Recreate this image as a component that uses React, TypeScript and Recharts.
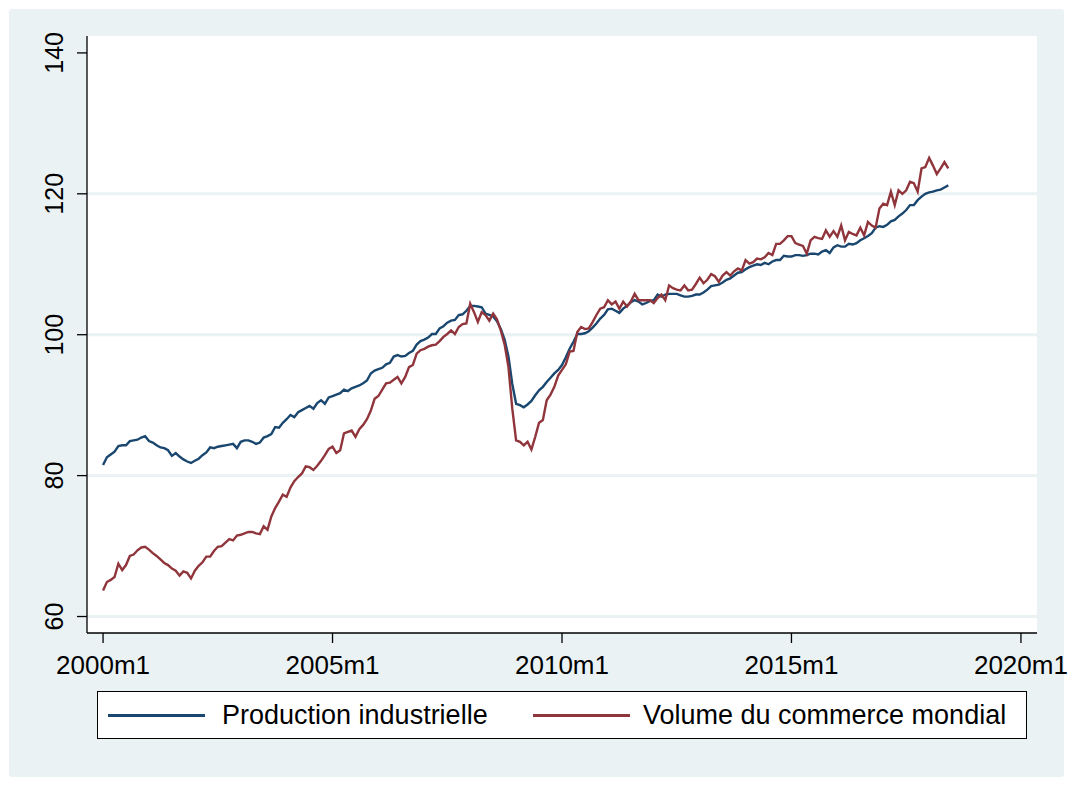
import React from "react"
import { LineChart, Line, XAxis, YAxis, CartesianGrid } from "recharts"

// monthly index, 2000m1 = 0
const ip = [
  81.5, 82.6, 83.0, 83.4, 84.2, 84.3, 84.3, 84.9, 85.0, 85.1, 85.4, 85.6,
  84.9, 84.7, 84.3, 84.0, 83.9, 83.6, 82.8, 83.2, 82.7, 82.3, 82.0, 81.8,
  82.1, 82.4, 82.9, 83.3, 84.0, 83.9, 84.1, 84.2, 84.3, 84.4, 84.5, 83.9,
  84.8, 85.0, 85.0, 84.8, 84.5, 84.7, 85.4, 85.6, 85.9, 86.9, 86.8, 87.5,
  88.0, 88.6, 88.3, 89.0, 89.3, 89.6, 89.9, 89.5, 90.3, 90.7, 90.2, 91.1,
  91.3, 91.5, 91.7, 92.2, 92.0, 92.4, 92.6, 92.8, 93.1, 93.5, 94.5, 94.9,
  95.1, 95.3, 95.8, 96.0, 96.9, 97.1, 96.9, 97.0, 97.4, 97.7, 98.6, 99.1,
  99.3, 99.6, 100.1, 100.1, 100.9, 101.2, 101.7, 102.0, 102.1, 102.8, 102.9, 103.4,
  104.1, 104.1, 104.0, 103.9, 103.0, 102.8, 102.6, 101.9, 100.8, 99.3, 96.9, 93.0,
  90.2, 90.0, 89.7, 90.1, 90.6, 91.4, 92.1, 92.6, 93.3, 93.9, 94.5, 95.0,
  95.7, 96.8, 98.0, 99.0, 100.1, 100.1, 100.2, 100.5, 101.0, 101.6, 102.3, 102.8,
  103.6, 103.7, 103.4, 103.1, 103.7, 104.1, 104.6, 104.9, 104.7, 104.3, 104.5, 104.8,
  104.9, 105.7, 105.4, 105.7, 105.8, 105.8, 105.8, 105.6, 105.4, 105.4, 105.5, 105.7,
  105.7, 106.0, 106.4, 106.9, 107.0, 107.1, 107.4, 107.8, 108.0, 108.4, 108.8, 108.9,
  109.3, 109.6, 109.8, 110.0, 109.9, 110.2, 110.0, 110.4, 110.6, 110.6, 111.2, 111.1,
  111.1, 111.3, 111.3, 111.2, 111.3, 111.5, 111.5, 111.4, 111.8, 112.0, 111.6, 112.4,
  112.7, 112.5, 112.5, 112.9, 112.8, 113.0, 113.4, 113.7, 114.0, 114.4, 115.2, 115.4,
  115.3, 115.6, 116.1, 116.3, 116.8, 117.2, 117.7, 118.4, 118.4, 119.1, 119.6, 120.0,
  120.2, 120.3, 120.5, 120.6, 120.9, 121.2,
]

const trade = [
  63.7, 64.9, 65.2, 65.6, 67.5, 66.6, 67.3, 68.6, 68.8, 69.4, 69.8, 69.9,
  69.5, 69.0, 68.6, 68.1, 67.6, 67.3, 66.8, 66.5, 65.8, 66.4, 66.2, 65.4,
  66.5, 67.2, 67.7, 68.5, 68.5, 69.3, 69.9, 70.0, 70.5, 71.0, 70.8, 71.5,
  71.6, 71.8, 72.0, 72.0, 71.8, 71.7, 72.8, 72.3, 74.2, 75.4, 76.3, 77.3,
  77.0, 78.3, 79.2, 79.8, 80.3, 81.3, 81.2, 80.8, 81.4, 82.1, 82.9, 83.8,
  84.1, 83.2, 83.6, 86.0, 86.2, 86.4, 85.5, 86.6, 87.2, 88.0, 89.2, 90.9,
  91.3, 92.2, 93.1, 93.2, 93.6, 94.0, 93.1, 94.0, 95.4, 95.7, 97.3, 97.8,
  98.0, 98.3, 98.5, 98.6, 99.1, 99.7, 100.1, 100.6, 100.1, 101.1, 101.5, 101.6,
  104.4, 103.2, 101.8, 103.2, 102.8, 102.0, 103.0, 102.2, 100.6, 98.6, 95.4, 89.5,
  85.0, 84.8, 84.3, 84.8, 83.7, 85.5, 87.5, 87.9, 90.7, 91.5, 92.6, 94.2,
  95.0, 95.8, 97.6, 97.7, 100.4, 101.1, 100.8, 100.9, 101.8, 102.8, 103.7, 103.9,
  104.9, 104.3, 104.7, 103.7, 104.7, 104.0, 104.7, 105.8, 104.9, 104.9, 104.9, 104.9,
  104.5, 105.2, 105.7, 104.9, 107.0, 106.6, 106.4, 106.3, 107.0, 106.3, 106.4, 107.2,
  108.1, 107.3, 107.8, 108.6, 108.3, 107.5, 108.4, 108.9, 108.4, 109.0, 109.4, 109.1,
  110.6, 110.1, 110.3, 110.8, 110.7, 111.0, 111.6, 111.3, 112.9, 112.9, 113.4, 114.0,
  114.0, 113.0, 112.8, 112.6, 111.5, 113.4, 113.9, 113.7, 113.6, 114.8, 113.9, 114.7,
  113.9, 115.5, 113.4, 114.6, 114.3, 114.1, 115.2, 114.1, 116.0, 115.5, 115.2, 117.9,
  118.6, 118.4, 120.3, 118.4, 120.5, 120.0, 120.5, 121.7, 121.5, 120.3, 123.6, 123.8,
  125.1, 124.0, 122.8, 123.6, 124.5, 123.6,
]

const xTicks = [0, 60, 120, 180, 240]
const xTickLabels = ["2000m1", "2005m1", "2010m1", "2015m1", "2020m1"]
const yTicks = [60, 80, 100, 120, 140]
const gridValues = [60, 80, 100, 120]

const seriesNames = ["Production industrielle", "Volume du commerce mondial"]
const colors = ["#1A476F", "#90353B"]

const data = ip.map((v, i) => ({ t: i, ip: v, trade: trade[i] }))

const FONT = "'Liberation Sans', Arial, sans-serif"

const YTick = ({ x, y, payload }: any) => (
  <text
    x={x - 12}
    y={y}
    transform={`rotate(-90 ${x - 12} ${y})`}
    textAnchor="middle"
    fontSize={25}
    fontFamily={FONT}
    fill="#000"
  >
    {payload.value}
  </text>
)

export default function App() {
  return (
    <div
      style={{
        position: "absolute",
        left: 9,
        top: 9,
        width: 1055,
        height: 768,
        background: "#EAF2F3",
        borderRadius: 3,
      }}
    >
      <LineChart
        width={1065}
        height={768}
        data={data}
        margin={{ top: 27, right: 37, left: 0, bottom: 84 }}
      >
        <CartesianGrid
          vertical={false}
          horizontalValues={gridValues}
          stroke="#EAF2F3"
          strokeWidth={3}
          fill="#ffffff"
          fillOpacity={1}
        />
        <XAxis
          dataKey="t"
          type="number"
          domain={[-4.2, 244.2]}
          ticks={xTicks}
          tickFormatter={(v) => xTickLabels[xTicks.indexOf(v)]}
          allowDataOverflow
          height={60}
          tickSize={10}
          tickMargin={13}
          axisLine={{ stroke: "#000", strokeWidth: 1.3 }}
          tickLine={{ stroke: "#000", strokeWidth: 1.3 }}
          tick={{ fontSize: 26, fontFamily: FONT, fill: "#000" }}
        />
        <YAxis
          type="number"
          domain={[57.66, 142.4]}
          ticks={yTicks}
          allowDataOverflow
          width={78}
          tickSize={10}
          axisLine={{ stroke: "#000", strokeWidth: 1.3 }}
          tickLine={{ stroke: "#000", strokeWidth: 1.3 }}
          tick={<YTick />}
        />
        <Line
          dataKey="ip"
          name={seriesNames[0]}
          stroke={colors[0]}
          strokeWidth={2.4}
          dot={false}
          isAnimationActive={false}
        />
        <Line
          dataKey="trade"
          name={seriesNames[1]}
          stroke={colors[1]}
          strokeWidth={2.4}
          dot={false}
          isAnimationActive={false}
        />
      </LineChart>
      <div
        style={{
          position: "absolute",
          left: 88,
          top: 682,
          width: 930,
          height: 48,
          background: "#fff",
          border: "1.3px solid #000",
          boxSizing: "border-box",
          fontFamily: FONT,
          fontSize: 27,
          color: "#000",
        }}
      >
        {seriesNames.map((name, i) => (
          <div
            key={name}
            style={{
              position: "absolute",
              left: i === 0 ? 10 : 435,
              top: 0,
              height: 46,
              display: "flex",
              alignItems: "center",
              whiteSpace: "nowrap",
            }}
          >
            <span
              style={{
                display: "inline-block",
                width: 97,
                height: 3,
                background: colors[i],
                marginRight: i === 0 ? 17 : 13,
              }}
            />
            <span>{name}</span>
          </div>
        ))}
      </div>
    </div>
  )
}
